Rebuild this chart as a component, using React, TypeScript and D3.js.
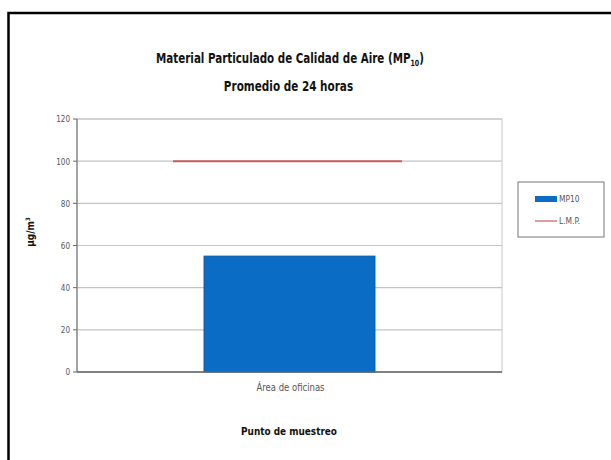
import * as d3 from "d3";
import React from "react";

const categories = ["Área de oficinas"];
const mp10Values = [55];
const lmpValues = [100];
const yTicks = [0, 20, 40, 60, 80, 100, 120];
const legendLabels = ["MP10", "L.M.P."];

const W = 611;
const H = 460;
const margin = { left: 77, right: 109, top: 119, bottom: 88 };
const FONT = "'Liberation Sans Narrow', 'DejaVu Sans Condensed', Arial, sans-serif";

const App: React.FC = () => {
  const innerW = W - margin.left - margin.right;
  const innerH = H - margin.top - margin.bottom;

  const x = d3.scaleBand<string>().domain(categories).range([0, innerW]).padding(0.426);
  const xLine = d3.scaleBand<string>().domain(categories).range([0, innerW]).padding(0.3);
  const y = d3.scaleLinear().domain([0, 120]).range([innerH, 0]);

  return (
    <svg
      width={W}
      height={H}
      style={{ position: "absolute", left: 0, top: 0, background: "#fff" }}
    >
      {/* outer frame, cut at right and bottom */}
      <rect x={8.5} y={13} width={W} height={H} fill="#fff" stroke="#000" strokeWidth={2.5} />

      <g transform="translate(290,63) scale(0.82,1)">
        <text textAnchor="middle" fontFamily={FONT} fontWeight="bold" fontSize={14} fill="#111">
          Material Particulado de Calidad de Aire (MP
          <tspan fontSize={8.5} dy={3}>10</tspan>
          <tspan dy={-3}>)</tspan>
        </text>
      </g>
      <g transform="translate(288.5,91) scale(0.83,1)">
        <text textAnchor="middle" fontFamily={FONT} fontWeight="bold" fontSize={14} fill="#111">
          Promedio de 24 horas
        </text>
      </g>

      <g transform={`translate(${margin.left},${margin.top})`}>
        <rect x={0} y={0} width={innerW} height={innerH} fill="none" stroke="#c8c8c8" strokeWidth={1} />
        {yTicks.map((t) => (
          <g key={t}>
            <line x1={0} x2={innerW} y1={y(t)} y2={y(t)} stroke="#c4c4c4" strokeWidth={1.2} />
            <line x1={-4} x2={0} y1={y(t)} y2={y(t)} stroke="#666" />
            <g transform={`translate(-7,${y(t)}) scale(0.85,1)`}>
              <text dy="0.35em" textAnchor="end" fontFamily={FONT} fontSize={9.5} fill="#555">
                {t}
              </text>
            </g>
          </g>
        ))}
        {categories.map((c, i) => (
          <rect
            key={c}
            x={x(c)}
            y={y(mp10Values[i])}
            width={x.bandwidth()}
            height={innerH - y(mp10Values[i])}
            fill="#0a6cc4"
            stroke="#0858a8"
            strokeWidth={0.8}
          />
        ))}
        {categories.map((c, i) => (
          <line
            key={c}
            x1={(xLine(c) ?? 0) - 2}
            x2={(xLine(c) ?? 0) - 2 + xLine.bandwidth()}
            y1={y(lmpValues[i])}
            y2={y(lmpValues[i])}
            stroke="#cc5a5a"
            strokeWidth={2}
          />
        ))}
        <line x1={0} x2={0} y1={0} y2={innerH} stroke="#777" strokeWidth={1.2} />
        <line x1={0} x2={innerW} y1={innerH} y2={innerH} stroke="#666" strokeWidth={1.5} />
        {categories.map((c) => (
          <g key={c} transform={`translate(${(x(c) ?? 0) + x.bandwidth() / 2 + 1},${innerH + 19}) scale(0.9,1)`}>
            <text textAnchor="middle" fontFamily={FONT} fontSize={10.5} fill="#555">
              {c}
            </text>
          </g>
        ))}
      </g>

      <g transform="translate(289,435) scale(0.9,1)">
        <text textAnchor="middle" fontFamily={FONT} fontWeight="bold" fontSize={11} fill="#111">
          Punto de muestreo
        </text>
      </g>
      <text
        transform="translate(34,232) rotate(-90)"
        textAnchor="middle"
        fontFamily={FONT}
        fontWeight="bold"
        fontSize={10}
        fill="#111"
      >
        µg/m<tspan fontSize={6} dy={-4}>3</tspan>
      </text>

      <g transform="translate(518,182)">
        <rect x={0} y={0} width={86} height={55} fill="#fff" stroke="#777" strokeWidth={1} />
        <rect x={17} y={14} width={22} height={6} fill="#0a6cc4" />
        <line x1={17} x2={39} y1={39} y2={39} stroke="#cc5a5a" strokeWidth={1.2} />
        {legendLabels.map((l, i) => (
          <g key={l} transform={`translate(41,${17 + i * 22}) scale(0.88,1)`}>
            <text dy="0.35em" fontFamily={FONT} fontSize={9.5} fill="#555">
              {l}
            </text>
          </g>
        ))}
      </g>
    </svg>
  );
};

export default App;
